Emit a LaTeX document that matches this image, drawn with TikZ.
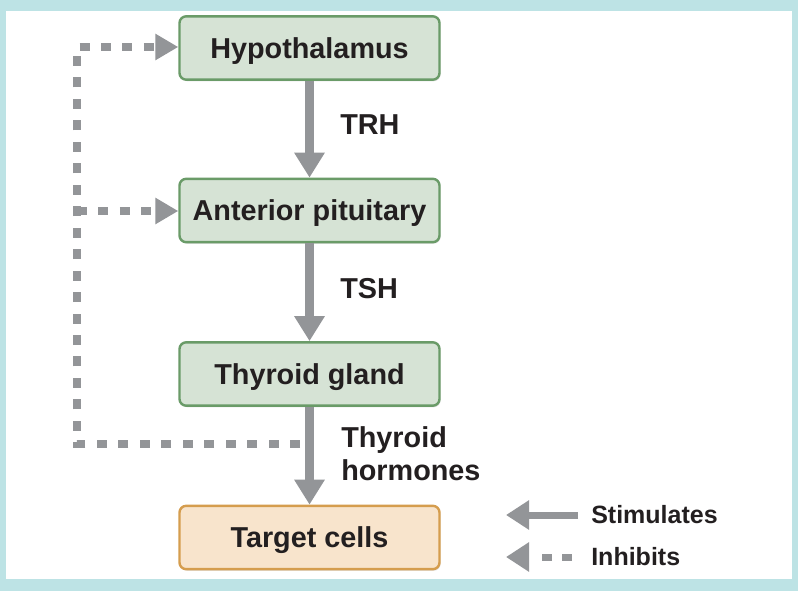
\documentclass[tikz,border=0pt]{standalone}
\usepackage{fontspec}
\setmainfont{Liberation Sans}
\usetikzlibrary{arrows.meta,shadows}
\definecolor{frame}{HTML}{BDE3E5}
\definecolor{gbox}{HTML}{D6E3D5}
\definecolor{gedge}{HTML}{6A9B68}
\definecolor{obox}{HTML}{F8E4CC}
\definecolor{oedge}{HTML}{D59D4E}
\definecolor{arr}{HTML}{939598}
\definecolor{txt}{HTML}{231F20}
\begin{document}
\begin{tikzpicture}[x=0.75pt,y=-0.75pt,
 box/.style={draw=gedge, fill=gbox, line width=1.8pt, rounded corners=5pt,
   minimum width=195pt, minimum height=47.5pt, inner sep=0pt, text=txt,
   text height=15.5pt, text depth=0pt,
   font=\fontsize{21.6}{24}\selectfont\bfseries,
   drop shadow={opacity=0.2, shadow xshift=0.8pt, shadow yshift=-1.2pt}},
 tbox/.style={box, draw=oedge, fill=obox},
 lab/.style={anchor=west, inner sep=0pt, text=txt, font=\fontsize{21.6}{24.75}\selectfont\bfseries, align=left},
 leg/.style={anchor=west, inner sep=0pt, text=txt, font=\fontsize{18.75}{22}\selectfont\bfseries},
 stim/.style={draw=arr, line width=6.75pt, -{Triangle[width=21.75pt,length=18.75pt]}},
 inh/.style={draw=arr, line width=6pt, dash pattern=on 7.5pt off 8.6pt, -{Triangle[width=18.75pt,length=17.25pt]}},
 legstim/.style={draw=arr, line width=5.25pt, -{Triangle[width=21pt,length=17.25pt]}},
 leginh/.style={legstim, dash pattern=on 7.5pt off 7.5pt on 7.5pt off 30pt},
]
\useasboundingbox (0,0) rectangle (798,591);
\fill[frame] (0,0) rectangle (798,591);
\fill[white] (6,11) rectangle (792,579);

\node[box] (hyp) at (309.5,48) {Hypothalamus};
\node[box] (ant) at (309.5,210.5) {Anterior pituitary};
\node[box] (thy) at (309.5,374) {Thyroid gland};
\node[tbox] (tgt) at (309.5,537.5) {Target cells};

\draw[stim] (hyp.south) -- (ant.north);
\draw[stim] (ant.south) -- (thy.north);
\draw[stim] (thy.south) -- (tgt.north);

\node[lab] (trh) at (340,125) {TRH};
\node[lab] (tsh) at (340,289) {TSH};
\node[lab] (thh) at (341,454) {Thyroid\\hormones};

\coordinate (fb) at (300,444);
\coordinate (c1) at (77,444);
\coordinate (c2) at (77,47);
\coordinate (c3) at (77,211);
\draw[inh] (fb) -- (c1) -- (c2) -- (c2 -| hyp.west);
\draw[inh] (c3) -- (c3 -| ant.west);

\node[leg] (stl) at (591,515) {Stimulates};
\node[leg] (inl) at (591,557) {Inhibits};
\coordinate (s1) at (578,515);
\coordinate (s2) at (506,515);
\coordinate (i1) at (572,557);
\coordinate (i2) at (506,557);
\draw[legstim] (s1) -- (s2);
\draw[leginh] (i1) -- (i2);
\end{tikzpicture}
\end{document}
